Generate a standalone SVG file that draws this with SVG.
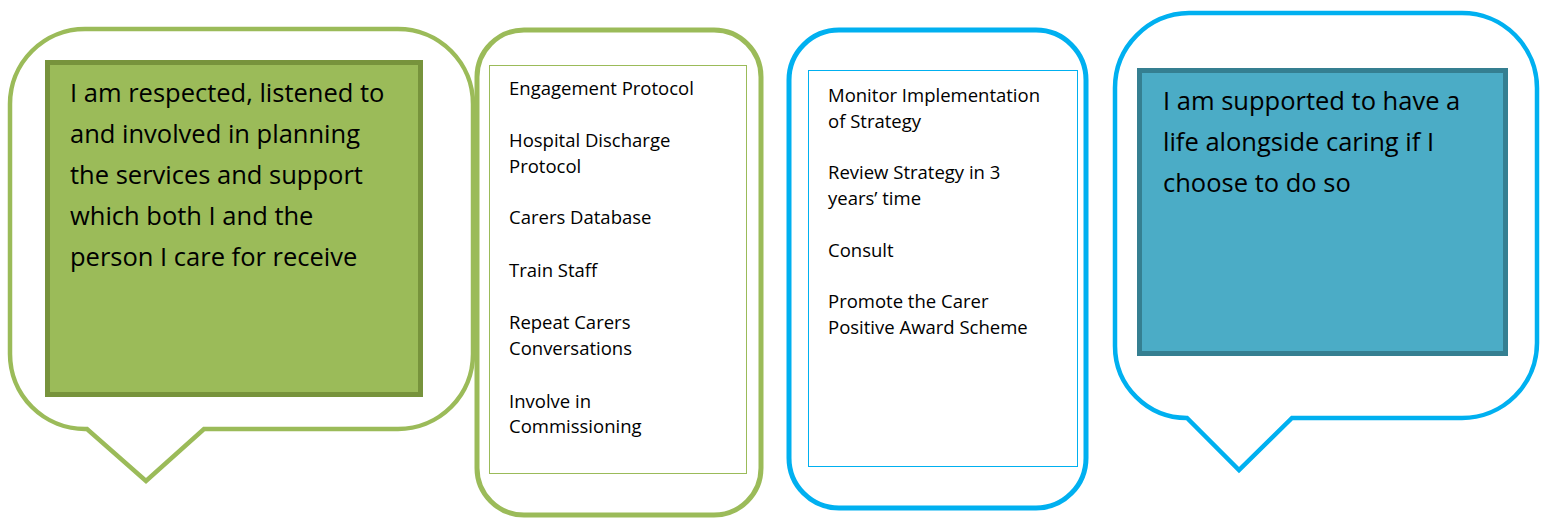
<svg xmlns="http://www.w3.org/2000/svg" width="1543" height="518" viewBox="0 0 1543 518">
  <style>
    .big { font-family: "Open Sans", "Liberation Sans", sans-serif; font-size: 25.5px; fill: #000; }
    .small { font-family: "Open Sans", "Liberation Sans", sans-serif; font-size: 18.5px; fill: #000; }
    .green-out { fill: #fff; stroke: #9BBB59; stroke-width: 4.5; stroke-linejoin: miter; }
    .blue-out { fill: #fff; stroke: #00B0F0; stroke-width: 4.5; stroke-linejoin: miter; }
  </style>
  <rect width="1543" height="518" fill="#fff"/>

  <g id="bubble-left">
    <path class="green-out" d="M 85,29 H 398 A 75 75 0 0 1 473 104 V 354 A 75 75 0 0 1 398 429 H 204 L 146 481 L 87 429 H 85 A 75 75 0 0 1 10 354 V 104 A 75 75 0 0 1 85 29 Z"/>
    <rect x="47.5" y="62.5" width="373" height="332" fill="#9BBB59" stroke="#77933C" stroke-width="5"/>
    <text class="big" x="70" y="102">I am respected, listened to</text>
    <text class="big" x="70" y="143">and involved in planning</text>
    <text class="big" x="70" y="184">the services and support</text>
    <text class="big" x="70" y="225">which both I and the</text>
    <text class="big" x="70" y="266">person I care for receive</text>
  </g>

  <g id="box-actions-green">
    <rect x="477" y="30" width="284" height="485" rx="47" ry="47" fill="#fff" stroke="#9BBB59" stroke-width="5"/>
    <rect x="489.5" y="65.5" width="257" height="408" fill="#fff" stroke="#9BBB59" stroke-width="1"/>
    <text class="small" x="509" y="95">Engagement Protocol</text>
    <text class="small" x="509" y="147">Hospital Discharge</text>
    <text class="small" x="509" y="173">Protocol</text>
    <text class="small" x="509" y="224">Carers Database</text>
    <text class="small" x="509" y="277">Train Staff</text>
    <text class="small" x="509" y="329">Repeat Carers</text>
    <text class="small" x="509" y="355">Conversations</text>
    <text class="small" x="509" y="408">Involve in</text>
    <text class="small" x="509" y="433">Commissioning</text>
  </g>

  <g id="box-actions-blue">
    <rect x="789" y="30" width="297" height="478" rx="50" ry="50" fill="#fff" stroke="#00B0F0" stroke-width="5"/>
    <rect x="808.5" y="70.5" width="269" height="396" fill="#fff" stroke="#00B0F0" stroke-width="1"/>
    <text class="small" x="828" y="102">Monitor Implementation</text>
    <text class="small" x="828" y="128">of Strategy</text>
    <text class="small" x="828" y="179">Review Strategy in 3</text>
    <text class="small" x="828" y="205">years’ time</text>
    <text class="small" x="828" y="257">Consult</text>
    <text class="small" x="828" y="308">Promote the Carer</text>
    <text class="small" x="828" y="334">Positive Award Scheme</text>
  </g>

  <g id="bubble-right">
    <path class="blue-out" d="M 1189,13 H 1462 A 75 75 0 0 1 1537 88 V 343 A 75 75 0 0 1 1462 418 H 1292 L 1239 470 L 1187 418 A 72 72 0 0 1 1115 346 V 88 A 75 75 0 0 1 1189 13 Z"/>
    <rect x="1139.5" y="70.5" width="366" height="283" fill="#4BACC6" stroke="#357F91" stroke-width="5"/>
    <text class="big" x="1163" y="110">I am supported to have a</text>
    <text class="big" x="1163" y="151">life alongside caring if I</text>
    <text class="big" x="1163" y="192">choose to do so</text>
  </g>

  <g id="connectors"></g>
</svg>
